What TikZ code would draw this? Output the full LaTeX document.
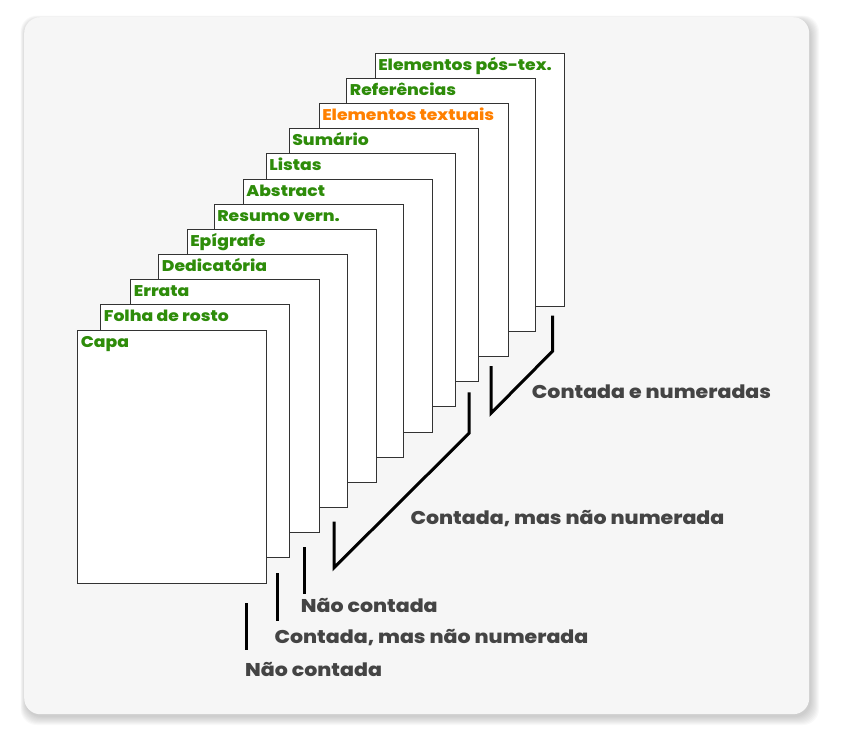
\documentclass[tikz,border=0pt]{standalone}
\usepackage{fontspec}
\setmainfont{Poppins}[BoldFont={Poppins ExtraBold}, BoldFeatures={FakeStretch=1.11}]
\definecolor{pagegreen}{HTML}{2E8C0A}
\definecolor{pageorange}{HTML}{FF8000}
\definecolor{txtgray}{HTML}{444444}
\definecolor{panelbg}{HTML}{F6F6F6}
\definecolor{edge}{HTML}{333333}
\tikzset{
  pagebox/.style={draw=edge, line width=0.9pt, fill=white, minimum width=189pt, minimum height=253pt, inner sep=0pt, anchor=north west},
  lbl/.style={font=\bfseries\fontsize{15.5}{16}\selectfont, text=pagegreen, inner sep=0pt, anchor=base west},
  lblo/.style={lbl, text=pageorange},
  note/.style={font=\bfseries\fontsize{18.5}{20}\selectfont, text=txtgray, inner sep=0pt, anchor=base west},
  bar/.style={line width=3pt, black, line cap=butt, line join=miter}
}
\begin{document}
\begin{tikzpicture}[x=1pt, y=-1pt]
\useasboundingbox (0,0) rectangle (846,744);
% shadow
\foreach \i in {1,...,9}{
  \fill[black, opacity=0.022, rounded corners=16pt] (24-\i*0.6+2,17-\i*0.6+4) rectangle (809+\i+1,714+\i+2);
}
\node[draw=none, fill=panelbg, rounded corners=16pt, minimum width=785pt, minimum height=697pt, inner sep=0pt, anchor=north west] (panel) at (24,17) {};
% pages, back to front
\node[pagebox] (p12) at (374.7,52.7) {};
\node[pagebox] (p11) at (346.3,77.7) {};
\node[pagebox] (p10) at (318.7,102.7) {};
\node[pagebox] (p9) at (288.7,127.7) {};
\node[pagebox] (p8) at (265.7,152.7) {};
\node[pagebox] (p7) at (242.7,178.7) {};
\node[pagebox] (p6) at (213.7,203.7) {};
\node[pagebox] (p5) at (186.7,228.7) {};
\node[pagebox] (p4) at (158.3,253.7) {};
\node[pagebox] (p3) at (130.3,278.7) {};
\node[pagebox] (p2) at (100.3,304) {};
\node[pagebox] (p1) at (77.3,329.7) {};
% labels
\node[lbl] (l12) at ([shift={(3.4,17.6)}]p12.north west) {Elementos pós-tex.};
\node[lbl] (l11) at ([shift={(3.4,17.6)}]p11.north west) {Referências};
\node[lblo] (l10) at ([shift={(3.4,17.6)}]p10.north west) {Elementos textuais};
\node[lbl] (l9) at ([shift={(3.4,17.6)}]p9.north west) {Sumário};
\node[lbl] (l8) at ([shift={(3.4,17.6)}]p8.north west) {Listas};
\node[lbl] (l7) at ([shift={(3.4,17.6)}]p7.north west) {Abstract};
\node[lbl] (l6) at ([shift={(3.4,17.6)}]p6.north west) {Resumo vern.};
\node[lbl] (l5) at ([shift={(3.4,17.6)}]p5.north west) {Epígrafe};
\node[lbl] (l4) at ([shift={(3.4,17.6)}]p4.north west) {Dedicatória};
\node[lbl] (l3) at ([shift={(3.4,17.6)}]p3.north west) {Errata};
\node[lbl] (l2) at ([shift={(3.4,17.6)}]p2.north west) {Folha de rosto};
\node[lbl] (l1) at ([shift={(3.4,17.6)}]p1.north west) {Capa};
% bars and brackets
\coordinate (a1) at (246.7,603.3); \coordinate (a2) at (246.7,650);
\coordinate (b1) at (277.7,573.3); \coordinate (b2) at (277.7,620.7);
\coordinate (c1) at (304,547.3); \coordinate (c2) at (304,594);
\coordinate (d1) at (334,521.7); \coordinate (d2) at (334,567.7); \coordinate (d3) at (469,433.3); \coordinate (d4) at (469,392.3);
\coordinate (e1) at (491,366); \coordinate (e2) at (491,413.3); \coordinate (e3) at (552.7,351); \coordinate (e4) at (552.7,315.7);
\draw[bar] (a1) -- (a2);
\draw[bar] (b1) -- (b2);
\draw[bar] (c1) -- (c2);
\draw[bar] (d1) -- (d2) -- (d3) -- (d4);
\draw[bar] (e1) -- (e2) -- (e3) -- (e4);
% notes
\node[note] (t1) at (245,676) {Não contada};
\node[note] (t2) at (274.3,643.5) {Contada, mas não numerada};
\node[note] (t3) at (300.7,612.7) {Não contada};
\node[note] (t4) at (410.3,524) {Contada, mas não numerada};
\node[note] (t5) at (531.7,398) {Contada e numeradas};
\end{tikzpicture}
\end{document}
